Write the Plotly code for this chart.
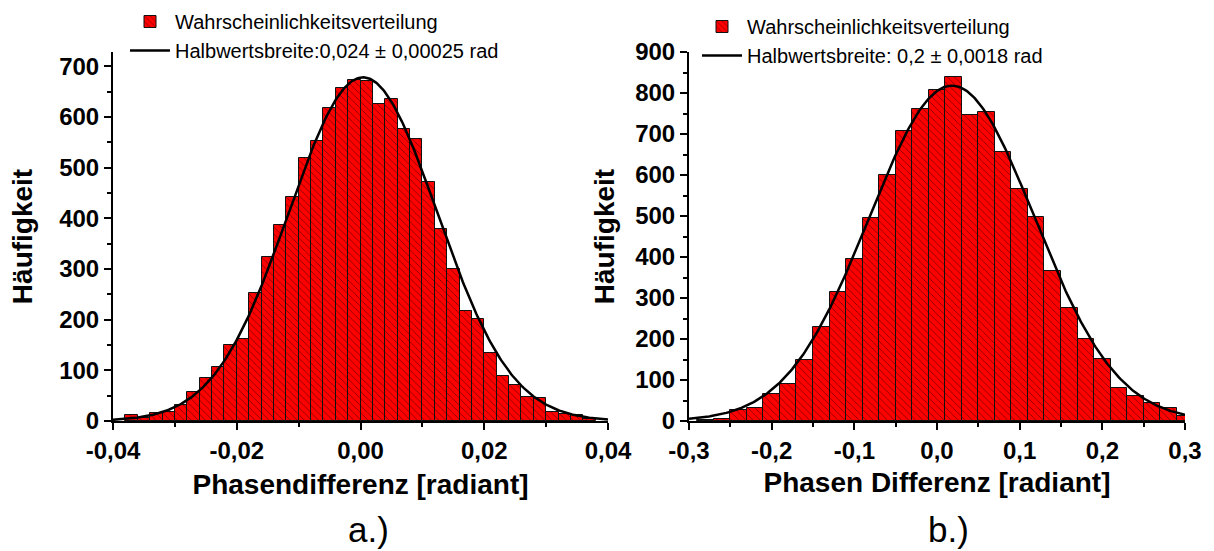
import numpy as np
import plotly.graph_objects as go

# ---- Panel a.): phase difference histogram, bin width 0.002 rad ----
a_bin_width = 0.002
a_first_center = -0.037
a_counts = [11, 6, 16, 18, 31, 57, 84, 106, 150, 161, 252, 323, 386, 442, 518,
            552, 617, 657, 673, 671, 625, 636, 577, 556, 471, 379, 299, 218, 202,
            134, 88, 71, 47, 45, 17, 14, 12, 3]
a_centers = np.round(a_first_center + a_bin_width * np.arange(len(a_counts)), 4)

# Gauss fit (Origin form: w = 2 sigma)
a_fit_center = 0.0004
a_fit_peak = 678
a_fit_w = 0.024

a_xticks = [-0.04, -0.02, 0.0, 0.02, 0.04]
a_xticktext = ["-0,04", "-0,02", "0,00", "0,02", "0,04"]

# ---- Panel b.): phase difference histogram, bin width 0.02 rad ----
b_bin_width = 0.02
b_first_center = -0.28
b_counts = [2, 5, 27, 31, 67, 91, 148, 229, 314, 395, 495, 601, 708, 761, 807,
            838, 746, 754, 655, 566, 497, 367, 275, 200, 151, 80, 60, 43, 31, 12]
b_centers = np.round(b_first_center + b_bin_width * np.arange(len(b_counts)), 4)

b_fit_center = 0.018
b_fit_peak = 818
b_fit_w = 0.2

b_xticks = [-0.3, -0.2, -0.1, 0.0, 0.1, 0.2, 0.3]
b_xticktext = ["-0,3", "-0,2", "-0,1", "0,0", "0,1", "0,2", "0,3"]

hist_name = "Wahrscheinlichkeitsverteilung"
a_fit_name = "Halbwertsbreite:0,024 ± 0,00025 rad"
b_fit_name = "Halbwertsbreite: 0,2 ± 0,0018 rad"


def gauss(x, xc, peak, w):
    return peak * np.exp(-2.0 * ((x - xc) / w) ** 2)


W, H = 1214, 551
FONT = "Liberation Sans, Arial, sans-serif"

bar_marker = dict(
    color="#ff0000",
    line=dict(color="#111111", width=1),
    pattern=dict(shape="\\", fillmode="replace", bgcolor="#ff0000",
                 fgcolor="#4a0000", size=5, solidity=0.12),
)

fig = go.Figure()

fig.add_trace(go.Bar(x=a_centers, y=a_counts, width=a_bin_width, name=hist_name,
                     marker=bar_marker, xaxis="x", yaxis="y", legend="legend"))
ax = np.linspace(-0.04, 0.04, 400)
fig.add_trace(go.Scatter(x=ax, y=gauss(ax, a_fit_center, a_fit_peak, a_fit_w),
                         mode="lines", line=dict(color="black", width=2.5),
                         name=a_fit_name, xaxis="x", yaxis="y", legend="legend"))

fig.add_trace(go.Bar(x=b_centers, y=b_counts, width=b_bin_width, name=hist_name,
                     marker=bar_marker, xaxis="x2", yaxis="y2", legend="legend2"))
bx = np.linspace(-0.3, 0.3, 400)
fig.add_trace(go.Scatter(x=bx, y=gauss(bx, b_fit_center, b_fit_peak, b_fit_w),
                         mode="lines", line=dict(color="black", width=2.5),
                         name=b_fit_name, xaxis="x2", yaxis="y2", legend="legend2"))

y_dom = [(H - 421) / H, (H - 52) / H]
tickfont = dict(family=FONT, size=24, color="black", weight="bold")
titlefont = dict(family=FONT, size=28, color="black", weight="bold")

common_axis = dict(showline=True, linecolor="black", linewidth=2, mirror=False,
                   ticks="outside", ticklen=7, tickwidth=2, tickcolor="black",
                   showgrid=False, zeroline=False, tickfont=tickfont,
                   automargin=False)

fig.update_layout(
    width=W, height=H,
    margin=dict(l=0, r=0, t=0, b=0, pad=0, autoexpand=False),
    paper_bgcolor="white", plot_bgcolor="white",
    bargap=0,
    barmode="overlay",
    xaxis=dict(domain=[113 / W, 608 / W], range=[-0.04, 0.04], anchor="y",
               tickvals=a_xticks, ticktext=a_xticktext,
               minor=dict(ticks="outside", ticklen=4, tickwidth=2,
                          tickcolor="black", dtick=0.01),
               title=dict(text="Phasendifferenz [radiant]", font=titlefont,
                          standoff=12),
               **common_axis),
    yaxis=dict(domain=y_dom, range=[0, 728], anchor="x", dtick=100,
               minor=dict(ticks="outside", ticklen=4, tickwidth=2,
                          tickcolor="black", dtick=50),
               title=dict(text="Häufigkeit", font=titlefont, standoff=18),
               **common_axis),
    xaxis2=dict(domain=[689 / W, 1185 / W], range=[-0.3, 0.3], anchor="y2",
                tickvals=b_xticks, ticktext=b_xticktext,
                minor=dict(ticks="outside", ticklen=4, tickwidth=2,
                           tickcolor="black", dtick=0.05),
                title=dict(text="Phasen Differenz [radiant]", font=titlefont,
                           standoff=10),
                **common_axis),
    yaxis2=dict(domain=y_dom, range=[0, 900], anchor="x2", dtick=100,
                minor=dict(ticks="outside", ticklen=4, tickwidth=2,
                           tickcolor="black", dtick=50),
                title=dict(text="Häufigkeit", font=titlefont, standoff=12),
                **common_axis),
    legend=dict(x=125 / W, y=1 - 2 / H, xanchor="left", yanchor="top",
                bgcolor="rgba(0,0,0,0)", itemwidth=40, tracegroupgap=0,
                font=dict(family=FONT, size=20, color="black")),
    legend2=dict(x=697 / W, y=1 - 7 / H, xanchor="left", yanchor="top",
                 bgcolor="rgba(0,0,0,0)", itemwidth=40, tracegroupgap=0,
                 font=dict(family=FONT, size=20, color="black")),
    annotations=[
        dict(text="a.)", x=368 / W, y=1 - 529 / H, xref="paper", yref="paper",
             xanchor="center", yanchor="middle", showarrow=False,
             font=dict(family=FONT, size=35, color="black")),
        dict(text="b.)", x=948 / W, y=1 - 529 / H, xref="paper", yref="paper",
             xanchor="center", yanchor="middle", showarrow=False,
             font=dict(family=FONT, size=35, color="black")),
    ],
)

fig.write_html("out.html")
